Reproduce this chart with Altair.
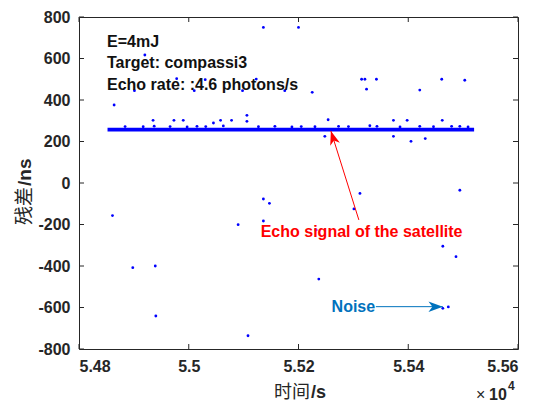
import altair as alt
import pandas as pd

# ---------------- data ----------------
# isolated noise photons (time in s, residual in ns)
noise_t = [55136, 55200, 54920,
           54978, 55030, 55123, 55315, 55321, 55342, 55461, 55503,
           54901, 55010, 55098, 55175, 55225, 55324, 55421,
           54864,
           54935, 54973, 54990, 55045, 55058, 55078, 55106, 55106, 55254, 55373, 55398, 55462,
           55248, 55373, 55405, 55431,
           54861, 54898, 54939, 54940, 55090, 55136, 55147, 55136, 55108,
           55312, 55301, 55494, 55232, 55463, 55487, 55237, 55463, 55473]
noise_r = [750, 750, 617,
           503, 498, 501, 500, 500, 500, 500, 495,
           445, 445, 445, 445, 437, 452, 448,
           376,
           302, 302, 302, 289, 302, 302, 326, 297, 305, 302, 302, 302,
           225, 225, 201, 214,
           -157, -408, -400, -641, -201, -77, -98, -183, -736,
           -50, -125, -35, -226, -305, -355, -463, -604, -597]

# photons just on the upper edge of the echo band
edge_t = [54884, 54917, 54937, 54966, 54997, 55015, 55031, 55063, 55127, 55157, 55188,
          55205, 55230, 55273, 55291, 55330, 55343, 55385, 55421, 55446, 55479, 55494, 55509]
edge_r = [272, 271, 274, 272, 270, 273, 272, 275, 271, 273, 270,
          272, 271, 273, 272, 276, 273, 270, 273, 271, 273, 273, 270]

# dense satellite echo band
band_t0 = [54852]
band_t1 = [55520]
band_r0 = [248]
band_r1 = [266]

x_ticks = [54800, 55000, 55200, 55400, 55600]
y_ticks = [-800, -600, -400, -200, 0, 200, 400, 600, 800]

info_lines = ["E=4mJ", "Target: compassi3", "Echo rate: :4.6 photons/s"]
info_t = [54851, 54851, 54851]
info_r = [680, 577, 472]

echo_label = ["Echo signal of the satellite"]
echo_label_t = [55315]
echo_label_r = [-235]
echo_arrow_t = [55310]
echo_arrow_r = [-178]
echo_tip_t = [55259]
echo_tip_r = [251]

noise_label = ["Noise"]
noise_label_t = [55300]
noise_label_r = [-596]
noise_arrow_t = [55341]
noise_tip_t = [55463]
noise_arrow_r = [-596]

W, H = 439, 332
FONT = "Liberation Sans"
GRAY = "#262626"
BLUE = "#0000FF"
RED = "#FF0000"
NBLUE = "#0072BD"

xs = alt.Scale(domain=[54800, 55600], nice=False, zero=False)
ys = alt.Scale(domain=[-800, 800], nice=False, zero=False)
xaxis = alt.Axis(values=x_ticks, labelExpr="datum.value/10000 + ''", ticks=False, tickSize=0,
                 domain=False, grid=False, title=None, labelFont=FONT, labelFontWeight="bold",
                 labelFontSize=16, labelColor=GRAY, labelPadding=9)
yaxis = alt.Axis(values=y_ticks, labelExpr="datum.value + ''", ticks=False, tickSize=0,
                 domain=False, grid=False, title=None, labelFont=FONT, labelFontWeight="bold",
                 labelFontSize=16, labelColor=GRAY, labelPadding=9)


def X(f):
    return alt.X(f, type="quantitative", scale=xs, axis=xaxis)


def Y(f):
    return alt.Y(f, type="quantitative", scale=ys, axis=yaxis)


pts = pd.DataFrame({"t": noise_t + edge_t, "r": noise_r + edge_r})
band_df = pd.DataFrame({"t0": band_t0, "t1": band_t1, "r0": band_r0, "r1": band_r1})

band = alt.Chart(band_df).mark_rect(color=BLUE).encode(
    x=X("t0"), x2="t1", y=Y("r0"), y2="r1")
points = alt.Chart(pts).mark_circle(size=8, color=BLUE, opacity=1).encode(x=X("t"), y=Y("r"))

# inward ticks (MATLAB box style)
xt = pd.DataFrame({"t": x_ticks})
yt = pd.DataFrame({"r": y_ticks})
tick_b = alt.Chart(xt).mark_rule(color=GRAY, strokeWidth=1).encode(
    x=X("t"), y=alt.value(H), y2=alt.value(H - 5))
tick_t = alt.Chart(xt).mark_rule(color=GRAY, strokeWidth=1).encode(
    x=X("t"), y=alt.value(0), y2=alt.value(5))
tick_l = alt.Chart(yt).mark_rule(color=GRAY, strokeWidth=1).encode(
    y=Y("r"), x=alt.value(0), x2=alt.value(5))
tick_r = alt.Chart(yt).mark_rule(color=GRAY, strokeWidth=1).encode(
    y=Y("r"), x=alt.value(W), x2=alt.value(W - 5))

info_df = pd.DataFrame({"s": info_lines, "t": info_t, "r": info_r})
info = alt.Chart(info_df).mark_text(align="left", baseline="middle", font=FONT, fontWeight="bold",
                                    fontSize=16, color="#111111").encode(x=X("t"), y=Y("r"), text="s:N")

echo_df = pd.DataFrame({"s": echo_label, "t": echo_label_t, "r": echo_label_r})
echo_txt = alt.Chart(echo_df).mark_text(align="center", baseline="middle", font=FONT, fontWeight="bold",
                                        fontSize=16, color=RED).encode(x=X("t"), y=Y("r"), text="s:N")
earrow_df = pd.DataFrame({"t": echo_arrow_t, "r": echo_arrow_r, "t2": echo_tip_t, "r2": echo_tip_r})
earrow = alt.Chart(earrow_df).mark_rule(color=RED, strokeWidth=1).encode(
    x=X("t"), y=Y("r"), x2="t2", y2="r2")
ARROW = "M0,0L0.8,2.2L0,1.6L-0.8,2.2Z"
ehead = alt.Chart(earrow_df).mark_point(shape=ARROW, filled=True, size=160, color=RED, opacity=1,
                                        angle=342.5).encode(x=X("t2"), y=Y("r2"))

noise_df = pd.DataFrame({"s": noise_label, "t": noise_label_t, "r": noise_label_r})
noise_txt = alt.Chart(noise_df).mark_text(align="center", baseline="middle", font=FONT, fontWeight="bold",
                                          fontSize=16, color=NBLUE).encode(x=X("t"), y=Y("r"), text="s:N")
narrow_df = pd.DataFrame({"t": noise_arrow_t, "t2": noise_tip_t, "r": noise_arrow_r})
narrow = alt.Chart(narrow_df).mark_rule(color=NBLUE, strokeWidth=1).encode(
    x=X("t"), x2="t2", y=Y("r"))
nhead = alt.Chart(narrow_df).mark_point(shape=ARROW, filled=True, size=170, color=NBLUE, opacity=1,
                                        angle=90).encode(x=X("t2"), y=Y("r"))


# axis titles and exponent
def label(s, x, y, size, weight, align, angle=0, font=FONT, baseline="middle"):
    kw = dict(align=align, baseline=baseline, font=font, fontSize=size, fontWeight=weight, color=GRAY)
    if angle:
        kw["angle"] = angle
    return alt.Chart(pd.DataFrame({"s": [s]})).mark_text(**kw).encode(
        text="s:N", x=alt.value(x), y=alt.value(y))


CJK = "Noto Sans CJK SC"
xt1 = label("时间", 231, 376, 18, "normal", "right", font=CJK)
xt2 = label("/s", 232, 376, 18, "bold", "left")
yt1 = label("残差", -54, 170, 19, "normal", "right", angle=270, font=CJK)
yt2 = label("/ns", -54, 169, 19, "bold", "left", angle=270)
ex1 = label("×", 397, 378, 16, "normal", "left")
ex2 = label("10", 410, 378, 16, "bold", "left")
ex3 = label("4", 429, 369, 12, "bold", "left")

chart = alt.layer(
    band, points, tick_b, tick_t, tick_l, tick_r, info, echo_txt, earrow, ehead,
    noise_txt, narrow, nhead, xt1, xt2, yt1, yt2, ex1, ex2, ex3
).properties(
    width=W, height=H,
    autosize=alt.AutoSizeParams(type="none"),
    padding={"left": 71, "top": 9, "right": 12, "bottom": 54},
    background="white",
).configure_view(stroke=GRAY, strokeWidth=1)

chart.save("out.html", embed_options={"renderer": "svg", "actions": False})
